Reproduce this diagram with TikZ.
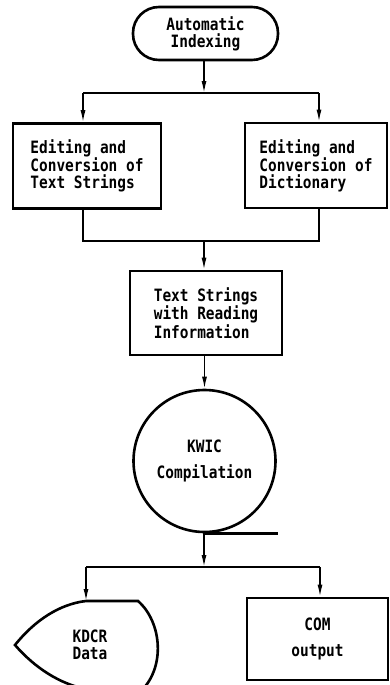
\documentclass[tikz,border=0pt]{standalone}
\usepackage{fontspec}
\newfontfamily\flowfont[FakeStretch=0.85]{DejaVu Sans Mono}
\usetikzlibrary{arrows.meta}

\tikzset{
  txt/.style={font=\flowfont\bfseries\fontsize{17}{16.8}\selectfont, align=left, inner sep=0pt},
  box/.style={txt, draw, line width=2.6pt, rectangle},
  flow/.style={line width=1.4pt},
  arr/.style={flow, -{Latex[length=12pt,width=5pt]}}
}

\begin{document}
\begin{tikzpicture}[x=1pt,y=-1pt]
  \useasboundingbox (0,0) rectangle (389,685);

  % boxes
  \node[box, rounded corners=26pt, minimum width=145pt, minimum height=53pt, align=center]
    (start) at (205.5,33.5) {Automatic\\Indexing};
  \node[box, minimum width=148pt, minimum height=85pt] (editT) at (87,166)
    {Editing and\\Conversion of\\Text Strings};
  \node[box, minimum width=142pt, minimum height=85pt] (editD) at (316,165.5)
    {Editing and\\Conversion of\\Dictionary};
  \node[box, minimum width=152pt, minimum height=84pt] (reading) at (206,313)
    {Text Strings\\with Reading\\Information};
  \node[box, circle, minimum size=142pt, align=center] (kwic) at (204.5,461)
    {KWIC\\[10pt]Compilation};
  \node[box, minimum width=141pt, minimum height=82pt, align=center] (com) at (317.5,639)
    {COM\\[10pt]output};

  % display symbol, runs off the bottom edge
  \begin{scope}
    \clip (0,0) rectangle (389,685);
    \draw[line width=2.6pt] (86,601) -- (138,601)
      .. controls (162,622) and (166,668) .. (140,692)
      -- (86,689) .. controls (60,684) and (35,668) .. (15,645)
      .. controls (35,620) and (60,604) .. (86,601) -- cycle;
  \end{scope}
  \node[txt, align=center] (kdcr) at (90,645) {KDCR\\Data};
  \coordinate (kdcrtop) at (86,601);

  % junctions
  \coordinate (j1) at (204,93);
  \coordinate (j1l) at (83,93);
  \coordinate (j1r) at (319,93);
  \coordinate (j2) at (204,241);
  \coordinate (j2l) at (83,241);
  \coordinate (j2r) at (319,241);
  \coordinate (j3) at (204,567);
  \coordinate (j3l) at (86,567);
  \coordinate (j3r) at (320,567);

  % connectors
  \draw[arr] (start.south -| j1) -- (j1);
  \draw[flow] (j1l) -- (j1r);
  \draw[arr] (j1l) -- (j1l |- editT.north);
  \draw[arr] (j1r) -- (j1r |- editD.north);

  \draw[flow] (j2l |- editT.south) -- (j2l) -- (j2r) -- (j2r |- editD.south);
  \draw[arr] (j2) -- (j2 |- reading.north);

  \draw[arr] (reading.south -| kwic) -- (kwic.north);
  \draw[line width=2.6pt] (kwic.south) -- ++(73,0);
  \draw[arr] (kwic.south -| j3) -- (j3);
  \draw[flow] (j3l) -- (j3r);
  \draw[arr] (j3l) -- (kdcrtop);
  \draw[arr] (j3r) -- (j3r |- com.north);

\end{tikzpicture}
\end{document}
